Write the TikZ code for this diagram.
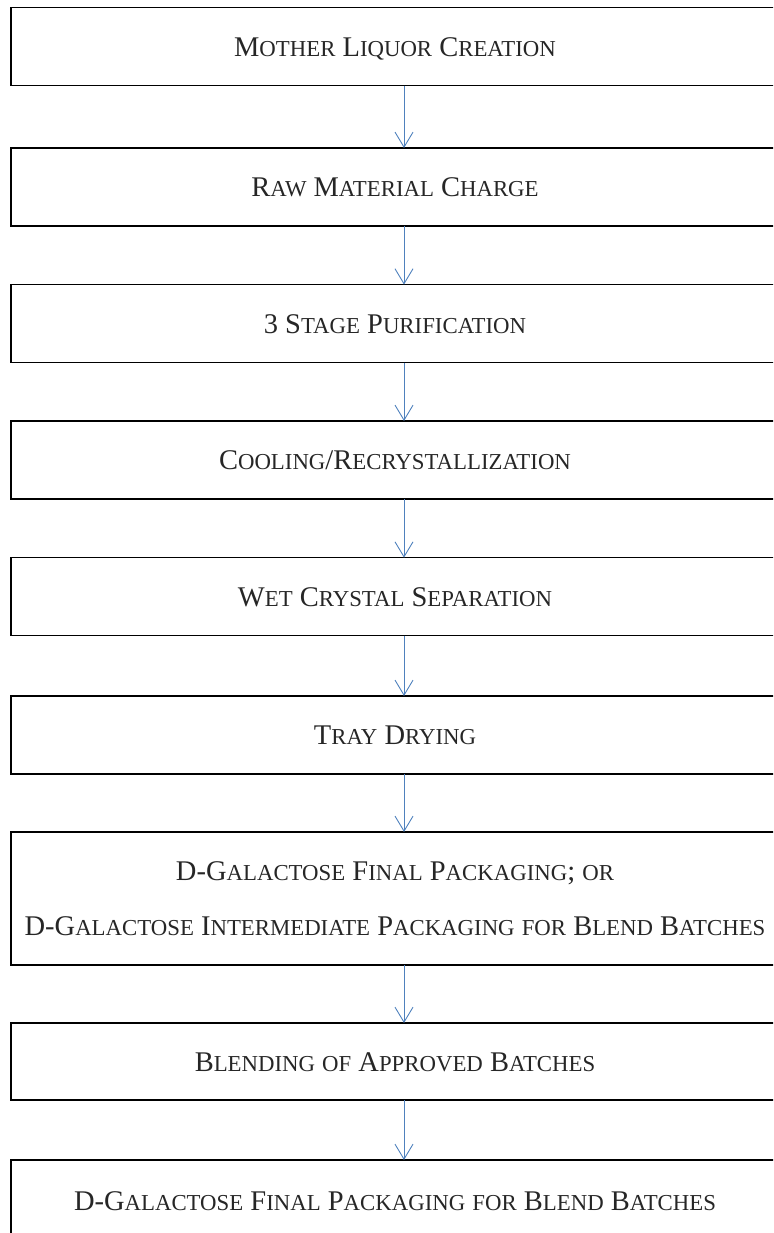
\documentclass[tikz,border=0pt]{standalone}
\usepackage{fontspec}
\setmainfont{Liberation Serif}
\usetikzlibrary{arrows.meta}

\definecolor{flowblue}{RGB}{79,129,189}
\newcommand{\smc}[1]{{\fontsize{22.8pt}{27pt}\selectfont #1}}

\tikzset{
  stagebox/.style={draw, line width=1.4pt, rectangle, minimum width=768pt,
    minimum height=78pt, inner sep=0pt, outer sep=0pt,
    font=\fontsize{28.5pt}{34pt}\selectfont, text=black!85,
    text height=19pt, text depth=0pt},
  flow/.style={flowblue, line width=0.9pt, -{Straight Barb[length=15pt,width=18pt]}}
}

\begin{document}
\begin{tikzpicture}[x=1pt,y=-1pt]
    \path[use as bounding box, clip] (0,0) rectangle (773,1233);
    % process stages
    \node[stagebox] (mlc) at (395,46.7) {M\smc{OTHER} L\smc{IQUOR} C\smc{REATION}};
    \node[stagebox] (rmc) at (395,187) {R\smc{AW} M\smc{ATERIAL} C\smc{HARGE}};
    \node[stagebox] (pur) at (395,323.6) {3 S\smc{TAGE} P\smc{URIFICATION}};
    \node[stagebox] (cool) at (395,460) {C\smc{OOLING}/R\smc{ECRYSTALLIZATION}};
    \node[stagebox] (sep) at (395,596.7) {W\smc{ET} C\smc{RYSTAL} S\smc{EPARATION}};
    \node[stagebox] (dry) at (395,735) {T\smc{RAY} D\smc{RYING}};
    % packaging, two lines
    \node[stagebox, minimum height=133pt, align=center, text height={}, text depth={}] (pack) at (395,898.5)
      {D-G\smc{ALACTOSE} F\smc{INAL} P\smc{ACKAGING}; \smc{OR}\\[21pt]
       D-G\smc{ALACTOSE} I\smc{NTERMEDIATE} P\smc{ACKAGING} \smc{FOR} B\smc{LEND} B\smc{ATCHES}};
    \node[stagebox, minimum height=77pt] (blend) at (395,1061.5) {B\smc{LENDING} \smc{OF} A\smc{PPROVED} B\smc{ATCHES}};
    \node[stagebox, minimum height=82pt] (fin) at (395,1201) {D-G\smc{ALACTOSE} F\smc{INAL} P\smc{ACKAGING} \smc{FOR} B\smc{LEND} B\smc{ATCHES}};
    % arrows between stages
    \foreach \a/\b in {mlc/rmc,rmc/pur,pur/cool,cool/sep,sep/dry,dry/pack,pack/blend,blend/fin} {
      \draw[flow] ([xshift=9pt]\a.south) -- ([xshift=9pt]\b.north);
    }
\end{tikzpicture}
\end{document}
